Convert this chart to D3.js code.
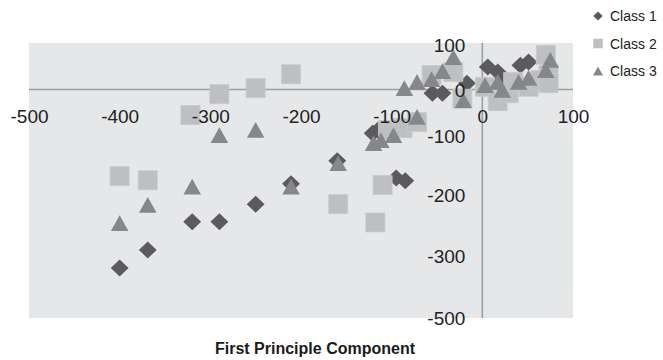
<!DOCTYPE html>
<html>
<head>
<meta charset="utf-8">
<script src="https://cdn.jsdelivr.net/npm/d3@7"></script>
<style>
  html, body { margin: 0; padding: 0; background: #ffffff; }
  svg { display: block; font-family: "Liberation Sans", Arial, Helvetica, sans-serif; }
</style>
</head>
<body>
<svg id="chart" width="663" height="360"></svg>
<script>
// ---- data ----
const seriesNames = ["Class 1", "Class 2", "Class 3"];

const class1 = [
  [-400, -339], [-369, -290], [-320, -244], [-290, -244], [-250, -215],
  [-211, -181], [-160, -142], [-121, -94], [-115, -87], [-95, -171],
  [-85, -176], [-55, -8], [-44, -8], [-17, 14], [6, 50], [17, 39],
  [23, 26], [42, 54], [51, 61]
];

const class2 = [
  [-400, -168], [-369, -175], [-322, -55], [-290, -10], [-250, 3],
  [-211, 34], [-159, -215], [-118, -245], [-110, -183], [-104, -87],
  [-88, -83], [-72, -70], [-56, 32], [-32, 39], [-22, -20], [3, 6],
  [17, -25], [29, -8], [34, 17], [51, 6], [64, 21], [70, 77],
  [73, 32], [73, 14]
];

const class3 = [
  [-400, -246], [-369, -216], [-320, -186], [-290, -98], [-250, -87],
  [-211, -186], [-159, -146], [-120, -112], [-112, -107], [-98, -98],
  [-72, -59], [-86, 3], [-72, 17], [-56, 23], [-44, 41], [-32, 72],
  [-21, -23], [3, 10], [17, 17], [22, -1], [40, 17], [51, 26],
  [70, 43], [75, 66]
];

const xTicks = [-500, -400, -300, -200, -100, 0, 100];
const yTicks = [100, 0, -100, -200, -300, -500];

// ---- layout ----
const svg = d3.select("#chart");
const plot = { left: 29, right: 573, top: 43, bottom: 318 };

const x = d3.scaleLinear().domain([-500, 100]).range([plot.left, plot.right]);
// the printed y axis is not evenly spaced; map each printed label to where it sits
const y = d3.scaleLinear()
  .domain(yTicks)
  .range([44.5, 89.5, 136, 195, 256, 318]);

const colors = ["#5b5b5d", "#bebfc2", "#858789"];

// marker shapes (centered on their bounding box)
const diamond = {
  draw(ctx, size) {
    const r = Math.sqrt(size) / 2;
    ctx.moveTo(0, -r); ctx.lineTo(r * 1.05, 0); ctx.lineTo(0, r); ctx.lineTo(-r * 1.05, 0); ctx.closePath();
  }
};
const square = {
  draw(ctx, size) {
    const r = Math.sqrt(size) / 2;
    ctx.rect(-r, -r, 2 * r, 2 * r);
  }
};
const triangle = {
  draw(ctx, size) {
    const w = Math.sqrt(size) / 2;
    const h = w * 0.9;
    ctx.moveTo(0, -h); ctx.lineTo(w, h); ctx.lineTo(-w, h); ctx.closePath();
  }
};
const shapes = [diamond, square, triangle];
const fmt = d => String(d);

// background
svg.append("rect")
  .attr("x", plot.left).attr("y", plot.top)
  .attr("width", plot.right - plot.left).attr("height", plot.bottom - plot.top)
  .attr("fill", "#e6e7e9");

// axis lines through origin
svg.append("line")
  .attr("x1", plot.left).attr("x2", plot.right)
  .attr("y1", y(0)).attr("y2", y(0))
  .attr("stroke", "#9c9d9f").attr("stroke-width", 1.6);
svg.append("line")
  .attr("x1", x(0)).attr("x2", x(0))
  .attr("y1", plot.top).attr("y2", plot.bottom)
  .attr("stroke", "#9c9d9f").attr("stroke-width", 1.6);

// points
const allSeries = [class1, class2, class3];
const markerSizes = [17 * 17, 19 * 19, 17.5 * 17.5];
allSeries.forEach((data, i) => {
  svg.append("g")
    .selectAll("path")
    .data(data)
    .join("path")
    .attr("transform", d => `translate(${x(d[0])},${y(d[1])})`)
    .attr("d", d3.symbol().type(shapes[i]).size(markerSizes[i]))
    .attr("fill", colors[i])
    .attr("stroke", i === 1 ? "#c8c9cc" : "none")
    .attr("stroke-width", 0.8);
});

// x axis labels (below the horizontal axis line)
const xAxis = d3.axisBottom(x).tickValues(xTicks).tickSize(0).tickPadding(0).tickFormat(fmt);
const gx = svg.append("g").attr("transform", `translate(0,${y(0)})`).call(xAxis);
gx.select(".domain").remove();
gx.selectAll("text")
  .attr("y", 26.5).attr("dy", "0.35em")
  .attr("font-size", 19).attr("fill", "#222222")
  .attr("font-family", "\"Liberation Sans\", Arial, sans-serif");

// y axis labels (left of the vertical axis line)
const yAxis = d3.axisLeft(y).tickValues(yTicks).tickSize(0).tickPadding(0).tickFormat(fmt);
const gy = svg.append("g").attr("transform", `translate(${x(0)},0)`).call(yAxis);
gy.select(".domain").remove();
gy.selectAll("text")
  .attr("x", -17).attr("dy", "0.36em")
  .attr("font-size", 19).attr("fill", "#222222")
  .attr("font-family", "\"Liberation Sans\", Arial, sans-serif");

// x axis title
svg.append("text")
  .attr("x", 315).attr("y", 354)
  .attr("text-anchor", "middle")
  .attr("font-size", 16).attr("font-weight", "bold").attr("fill", "#1a1a1a")
  .text("First Principle Component");

// legend
const legend = svg.append("g");
const legendSizes = [9 * 9, 9.5 * 9.5, 10 * 10];
seriesNames.forEach((name, i) => {
  const cy = 16 + i * 27.5;
  legend.append("path")
    .attr("transform", `translate(598,${cy})`)
    .attr("d", d3.symbol().type(shapes[i]).size(legendSizes[i]))
    .attr("fill", colors[i]);
  legend.append("text")
    .attr("x", 610).attr("y", cy).attr("dy", "0.36em")
    .attr("font-size", 14).attr("fill", "#222222")
    .text(name);
});
</script>
</body>
</html>
